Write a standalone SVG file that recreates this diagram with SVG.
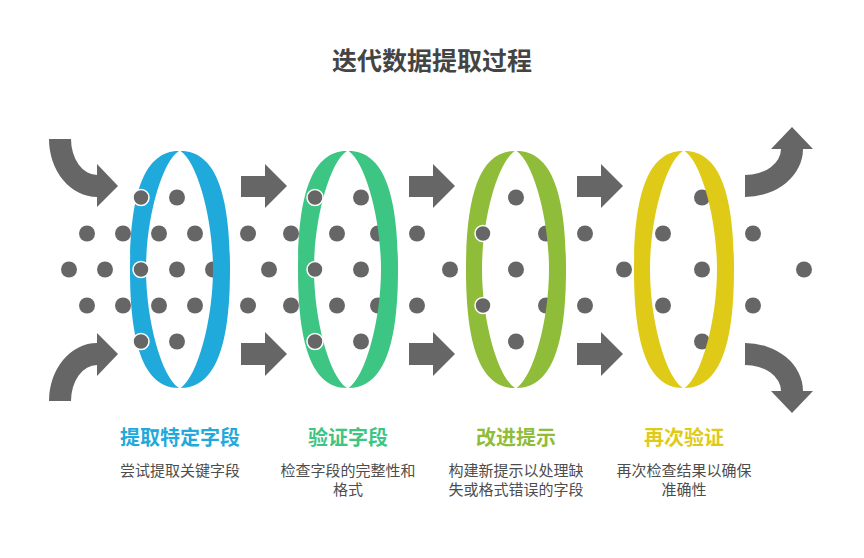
<svg xmlns="http://www.w3.org/2000/svg" xmlns:xlink="http://www.w3.org/1999/xlink" width="864" height="558" viewBox="0 0 864 558">
  <style>
    .dot { fill: #666666; }
    .dot.o { stroke: #ffffff; stroke-width: 1.5; }
    .arrow { fill: #666666; }
    .title { font-family: "Noto Sans CJK SC", "Noto Sans", sans-serif; font-size: 25px; font-weight: bold; fill: #444444; text-anchor: middle; }
    .label { font-family: "Noto Sans CJK SC", "Noto Sans", sans-serif; font-size: 20px; font-weight: bold; text-anchor: middle; }
    .desc { font-family: "Noto Sans CJK SC", "Noto Sans", sans-serif; font-size: 15px; fill: #4d4d4d; text-anchor: middle; }
  </style>
  <defs>
    <path id="back" d="M-1.2,151 C-38,151 -50,200 -50,269.5 C-50,339 -38,388 -1.2,388 C-19,376 -34,319 -34,269.5 C-34,220 -19,163 -1.2,151 Z"/>
    <path id="front" d="M0.6,151 C38,151 50,200 50,269.5 C50,339 38,388 0.6,388 C18,376 33,319 33,269.5 C33,220 18,163 0.6,151 Z"/>
  </defs>
  <rect width="864" height="558" fill="#ffffff"/>
  <text class="title" x="432" y="70">迭代数据提取过程</text>

  <g id="particles">
    <circle class="dot" cx="87" cy="233.5" r="8"/>
    <circle class="dot" cx="123" cy="233.5" r="8"/>
    <circle class="dot" cx="69" cy="269.5" r="8"/>
    <circle class="dot" cx="105" cy="269.5" r="8"/>
    <circle class="dot" cx="87" cy="305.5" r="8"/>
    <circle class="dot" cx="123" cy="305.5" r="8"/>
    <circle class="dot" cx="248" cy="233.5" r="8"/>
    <circle class="dot" cx="291" cy="233.5" r="8"/>
    <circle class="dot" cx="269" cy="269.5" r="8"/>
    <circle class="dot" cx="248" cy="305.5" r="8"/>
    <circle class="dot" cx="291" cy="305.5" r="8"/>
    <circle class="dot" cx="417" cy="233.5" r="8"/>
    <circle class="dot" cx="450" cy="269.5" r="8"/>
    <circle class="dot" cx="417" cy="305.5" r="8"/>
    <circle class="dot" cx="585" cy="233.5" r="8"/>
    <circle class="dot" cx="624" cy="269.5" r="8"/>
    <circle class="dot" cx="585" cy="305.5" r="8"/>
    <circle class="dot" cx="753" cy="233.5" r="8"/>
    <circle class="dot" cx="804" cy="269.5" r="8"/>
    <circle class="dot" cx="753" cy="305.5" r="8"/>
  </g>

  <g id="connectors">
    <path class="arrow" d="M49,139 A48,58 0 0 0 97,197 L97,207 L118,186 L97,164 L97,175 A26,36 0 0 1 71,139 Z"/>
    <path class="arrow" d="M49,401 A48,58 0 0 1 97,343 L97,333 L118,354 L97,376 L97,365 A26,36 0 0 0 71,401 Z"/>
    <path class="arrow" d="M241,176 L265,176 L265,164 L287,186 L265,208 L265,197 L241,197 Z"/>
    <path class="arrow" d="M241,343 L265,343 L265,332 L287,354 L265,376 L265,365 L241,365 Z"/>
    <path class="arrow" d="M409,176 L433,176 L433,164 L455,186 L433,208 L433,197 L409,197 Z"/>
    <path class="arrow" d="M409,343 L433,343 L433,332 L455,354 L433,376 L433,365 L409,365 Z"/>
    <path class="arrow" d="M577,176 L601,176 L601,164 L623,186 L601,208 L601,197 L577,197 Z"/>
    <path class="arrow" d="M577,343 L601,343 L601,332 L623,354 L601,376 L601,365 L577,365 Z"/>
    <path class="arrow" d="M745,175 A36,26 0 0 0 781,149 L771,149 L792,127 L813,149 L803,149 A58,48 0 0 1 745,197 Z"/>
    <path class="arrow" d="M745,365 A36,26 0 0 1 781,391 L771,391 L792,413 L813,391 L803,391 A58,48 0 0 0 745,343 Z"/>
  </g>

  <g id="node-extract">
    <use xlink:href="#back" href="#back" transform="translate(180,0)" fill="#1FAADB"/>
    <circle class="dot o" cx="141" cy="197.5" r="8"/>
    <circle class="dot" cx="177" cy="197.5" r="8"/>
    <circle class="dot" cx="159" cy="233.5" r="8"/>
    <circle class="dot" cx="195" cy="233.5" r="8"/>
    <circle class="dot o" cx="141" cy="269.5" r="8"/>
    <circle class="dot" cx="177" cy="269.5" r="8"/>
    <circle class="dot" cx="213" cy="269.5" r="8"/>
    <circle class="dot" cx="159" cy="305.5" r="8"/>
    <circle class="dot" cx="195" cy="305.5" r="8"/>
    <circle class="dot o" cx="141" cy="341.5" r="8"/>
    <circle class="dot" cx="177" cy="341.5" r="8"/>
    <use xlink:href="#front" href="#front" transform="translate(180,0)" fill="#1FAADB"/>
    <text class="label" x="180" y="445" fill="#1FAADB">提取特定字段</text>
    <text class="desc" x="180" y="476">尝试提取关键字段</text>
  </g>

  <g id="node-validate">
    <use xlink:href="#back" href="#back" transform="translate(348,0)" fill="#3DC584"/>
    <circle class="dot o" cx="315" cy="197.5" r="8"/>
    <circle class="dot" cx="361" cy="197.5" r="8"/>
    <circle class="dot" cx="337" cy="233.5" r="8"/>
    <circle class="dot" cx="378" cy="233.5" r="8"/>
    <circle class="dot o" cx="315" cy="269.5" r="8"/>
    <circle class="dot" cx="361" cy="269.5" r="8"/>
    <circle class="dot" cx="337" cy="305.5" r="8"/>
    <circle class="dot" cx="378" cy="305.5" r="8"/>
    <circle class="dot o" cx="315" cy="341.5" r="8"/>
    <circle class="dot" cx="361" cy="341.5" r="8"/>
    <use xlink:href="#front" href="#front" transform="translate(348,0)" fill="#3DC584"/>
    <text class="label" x="348" y="445" fill="#3DC584">验证字段</text>
    <text class="desc" x="348" y="476">检查字段的完整性和</text>
    <text class="desc" x="348" y="495">格式</text>
  </g>

  <g id="node-improve">
    <use xlink:href="#back" href="#back" transform="translate(516,0)" fill="#8FBC39"/>
    <circle class="dot" cx="516" cy="197.5" r="8"/>
    <circle class="dot o" cx="483" cy="233.5" r="8"/>
    <circle class="dot" cx="546" cy="233.5" r="8"/>
    <circle class="dot" cx="516" cy="269.5" r="8"/>
    <circle class="dot o" cx="483" cy="305.5" r="8"/>
    <circle class="dot" cx="546" cy="305.5" r="8"/>
    <circle class="dot" cx="516" cy="341.5" r="8"/>
    <use xlink:href="#front" href="#front" transform="translate(516,0)" fill="#8FBC39"/>
    <text class="label" x="516" y="445" fill="#8FBC39">改进提示</text>
    <text class="desc" x="516" y="476">构建新提示以处理缺</text>
    <text class="desc" x="516" y="495">失或格式错误的字段</text>
  </g>

  <g id="node-revalidate">
    <use xlink:href="#back" href="#back" transform="translate(684,0)" fill="#DFCB17"/>
    <circle class="dot" cx="702" cy="197.5" r="8"/>
    <circle class="dot" cx="663" cy="233.5" r="8"/>
    <circle class="dot" cx="702" cy="269.5" r="8"/>
    <circle class="dot" cx="663" cy="305.5" r="8"/>
    <circle class="dot" cx="702" cy="341.5" r="8"/>
    <use xlink:href="#front" href="#front" transform="translate(684,0)" fill="#DFCB17"/>
    <text class="label" x="684" y="445" fill="#DFCB17">再次验证</text>
    <text class="desc" x="684" y="476">再次检查结果以确保</text>
    <text class="desc" x="684" y="495">准确性</text>
  </g>
</svg>
